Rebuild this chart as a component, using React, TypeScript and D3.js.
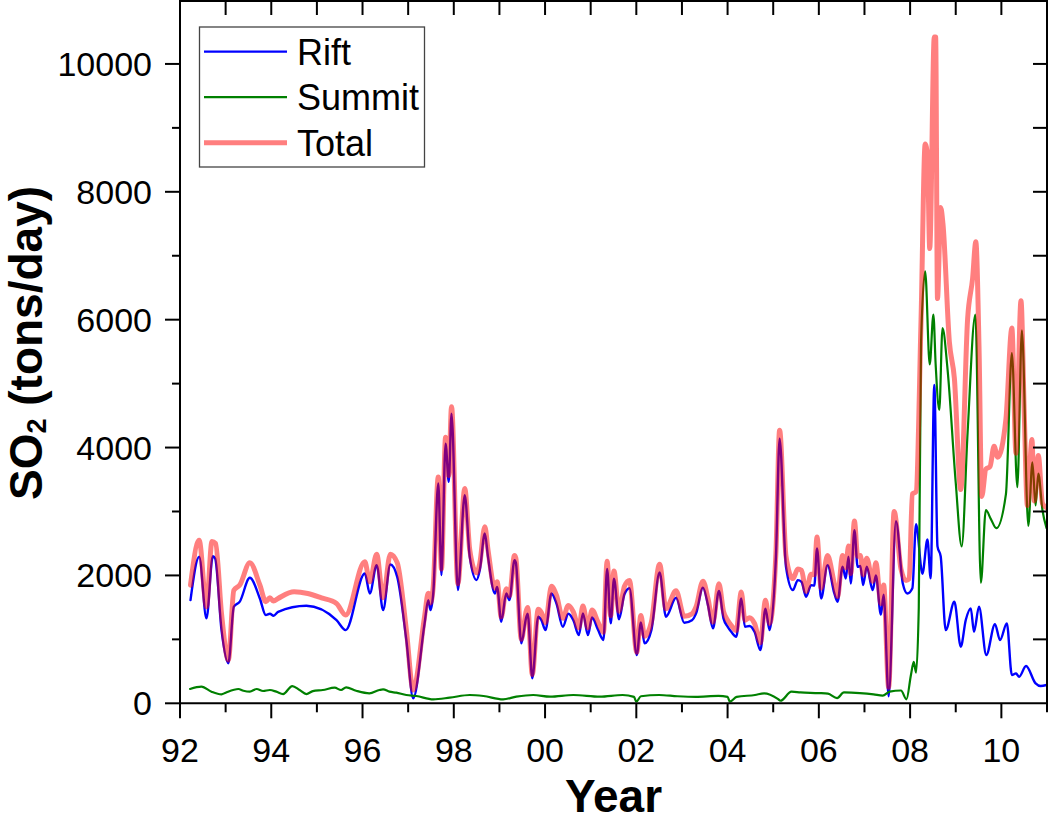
import React from "react";
import * as d3 from "d3";

// ---- Data (year as 92..111, where 100 = 2000) ----
const riftYears = [
  92.23, 92.42, 92.58, 92.72, 92.77, 92.91, 93.06, 93.18, 93.31, 93.53, 93.75, 93.88, 93.97, 94.05, 94.15,
  94.77, 95.43, 95.63, 96.05, 96.16, 96.31, 96.45, 96.61, 96.76, 96.96, 97.11, 97.36, 97.44, 97.49, 97.55,
  97.66, 97.73, 97.82, 97.89, 97.95, 98.09, 98.24, 98.35, 98.5, 98.57, 98.68, 98.75, 98.9, 98.95, 99.04,
  99.15, 99.22, 99.33, 99.36, 99.48, 99.59, 99.62, 99.72, 99.85, 99.92, 100.01, 100.14, 100.25, 100.39,
  100.51, 100.62, 100.74, 100.83, 100.94, 101.03, 101.16, 101.28, 101.36, 101.44, 101.51, 101.62, 101.74,
  101.85, 102.01, 102.1, 102.18, 102.33, 102.51, 102.65, 102.87, 103.05, 103.22, 103.31, 103.46, 103.57,
  103.68, 103.81, 103.91, 104.0, 104.08, 104.19, 104.3, 104.38, 104.48, 104.59, 104.72, 104.83, 104.92,
  105.06, 105.14, 105.28, 105.43, 105.54, 105.62, 105.72, 105.83, 105.9, 105.96, 106.05, 106.19, 106.34,
  106.41, 106.52, 106.59, 106.65, 106.7, 106.78, 106.85, 106.91, 106.97, 107.05, 107.18, 107.25, 107.36,
  107.42, 107.53, 107.69, 107.84, 107.94, 108.05, 108.13, 108.27, 108.38, 108.45, 108.53, 108.6, 108.67,
  108.78, 108.97, 109.11, 109.22, 109.33, 109.4, 109.51, 109.67, 109.86, 109.97, 110.12, 110.23, 110.32,
  110.39, 110.54, 110.75, 110.86, 110.99,
];
const riftValues = [
  1614, 2291, 1328, 2300, 2265, 1145, 625, 1510, 1590, 1963, 1640, 1380, 1400, 1370, 1430,
  1525, 1300, 1145, 2030, 1718, 2160, 1457, 2170, 1978, 990, 78, 1250, 1614, 1457, 1718,
  3437, 2005, 4062, 3463, 4531, 1770, 3255, 2290, 1927, 2083, 2656, 2290, 1718, 1820, 1275,
  1718, 1614, 2240, 2200, 937, 1353, 1400, 390, 1353, 1300, 1145, 1718, 1560, 1197,
  1400, 1300, 1067, 1406, 1067, 1343, 1150, 990, 2100, 1250, 1950, 1315, 1705,
  1800, 755, 1265, 937, 1145, 2045, 1354, 1650, 1260, 1300, 1406, 1810, 1536,
  1172, 1757, 1328, 1200, 1119, 1041, 1640, 1198, 1210, 1119, 833, 1480, 1145,
  2291, 4140, 2135, 1770, 1927, 1900, 1666, 1848, 1840, 2421, 1640, 2161, 1718,
  1588, 2135, 1953, 2291, 1874, 2708, 2135, 2150, 1849, 2135, 1770, 2000, 1387,
  1700, 110, 2850, 1874, 1718, 1800, 2800, 2027, 2561, 1956, 4979, 2454, 2300,
  1145, 1588, 885, 1302, 1484, 1119, 1510, 755, 1239, 989, 1250, 442, 468,
  416, 583, 312, 270, 286,
];

const summitYears = [
  92.22, 92.47, 92.69, 92.91, 93.0, 93.28, 93.39, 93.53, 93.68, 93.82, 93.97, 94.11, 94.26, 94.46, 94.62,
  94.77, 94.91, 95.13, 95.39, 95.53, 95.64, 95.86, 96.15, 96.37, 96.45, 96.59, 96.74, 96.96, 97.18, 97.55,
  97.91, 98.35, 98.65, 99.08, 99.37, 99.74, 100.11, 100.62, 101.2, 101.7, 101.95, 102.0, 102.1, 102.5,
  102.9, 103.3, 103.8, 104.0, 104.05, 104.2, 104.6, 104.8, 105.1, 105.16, 105.4, 105.6, 106.0, 106.2,
  106.4, 106.55, 106.9, 107.2, 107.4, 107.55, 107.8, 107.92, 108.02, 108.08, 108.13, 108.19, 108.24,
  108.33, 108.43, 108.51, 108.56, 108.64, 108.71, 108.82, 109.0, 109.13, 109.26, 109.43, 109.55, 109.66,
  109.77, 109.89, 110.1, 110.23, 110.35, 110.45, 110.59, 110.68, 110.75, 110.81, 110.9, 110.99,
];
const summitValues = [
  224, 260, 182, 140, 166, 224, 197, 182, 224, 192, 208, 182, 145, 270, 208,
  145, 190, 208, 244, 208, 250, 197, 156, 208, 218, 182, 166, 130, 114, 62,
  88, 130, 114, 62, 104, 130, 104, 130, 104, 130, 100, 25, 110, 130,
  110, 100, 115, 100, 25, 100, 130, 155, 70, 40, 182, 170, 160, 150,
  80, 170, 160, 140, 120, 182, 200, 62, 450, 650, 480, 1500, 5655,
  6757, 5299, 6081, 5299, 4588, 5868, 5228, 3450, 2454, 4232, 6081, 1885, 3023,
  2881, 2739, 3272, 5477, 3379, 5832, 2774, 3770, 3094, 3592, 3023, 2739,
];

const totalYears = [
  92.23, 92.42, 92.58, 92.7, 92.78, 92.91, 93.06, 93.18, 93.31, 93.53, 93.75, 93.88, 93.97, 94.05, 94.15,
  94.5, 94.8, 95.1, 95.43, 95.63, 96.05, 96.16, 96.31, 96.45, 96.61, 96.76, 96.96, 97.11, 97.36, 97.44,
  97.49, 97.55, 97.66, 97.73, 97.82, 97.89, 97.95, 98.09, 98.24, 98.35, 98.5, 98.57, 98.68, 98.75, 98.9,
  98.95, 99.04, 99.15, 99.22, 99.33, 99.36, 99.48, 99.59, 99.62, 99.72, 99.85, 99.92, 100.01, 100.14,
  100.25, 100.39, 100.51, 100.62, 100.74, 100.83, 100.94, 101.03, 101.16, 101.28, 101.36, 101.44, 101.51,
  101.62, 101.74, 101.85, 102.01, 102.1, 102.18, 102.33, 102.51, 102.65, 102.87, 103.05, 103.22, 103.31,
  103.46, 103.57, 103.68, 103.81, 103.91, 104.0, 104.08, 104.19, 104.3, 104.38, 104.48, 104.59, 104.72,
  104.83, 104.92, 105.06, 105.14, 105.28, 105.43, 105.54, 105.62, 105.72, 105.83, 105.9, 105.96, 106.05,
  106.19, 106.34, 106.41, 106.52, 106.59, 106.65, 106.7, 106.78, 106.85, 106.91, 106.97, 107.05, 107.18,
  107.25, 107.36, 107.42, 107.53, 107.65, 107.8, 107.91, 107.98, 108.05, 108.13, 108.24, 108.33, 108.38,
  108.43, 108.53, 108.56, 108.6, 108.67, 108.72, 108.86, 108.97, 109.11, 109.26, 109.37, 109.44, 109.51,
  109.57, 109.66, 109.75, 109.84, 109.92, 110.1, 110.23, 110.32, 110.43, 110.5, 110.57, 110.67, 110.72,
  110.81, 110.9, 110.99,
];
const totalValues = [
  1848, 2551, 1510, 2530, 2500, 1400, 677, 1770, 1850, 2197, 1850, 1590, 1650, 1600, 1640,
  1745, 1718, 1650, 1562, 1380, 2213, 1900, 2333, 1650, 2333, 2200, 1150, 208, 1360, 1720,
  1570, 1830, 3540, 2100, 4160, 3560, 4640, 1870, 3360, 2400, 2040, 2190, 2760, 2400, 1800,
  1900, 1350, 1790, 1680, 2310, 2270, 1000, 1450, 1500, 450, 1470, 1420, 1260, 1830,
  1690, 1330, 1530, 1430, 1180, 1520, 1180, 1460, 1270, 1110, 2220, 1370, 2070,
  1440, 1830, 1920, 800, 1375, 1050, 1270, 2175, 1480, 1760, 1360, 1400, 1510,
  1910, 1640, 1270, 1870, 1440, 1300, 1220, 1140, 1740, 1300, 1340, 1250, 950,
  1610, 1250, 2360, 4270, 2300, 1950, 2100, 2080, 1750, 2020, 2010, 2600, 1800,
  2310, 1870, 1670, 2310, 2120, 2460, 2030, 2850, 2300, 2310, 2010, 2270, 1910,
  2200, 1560, 1850, 250, 3000, 2100, 1920, 1950, 3272, 3308, 6010, 8749, 8571,
  7113, 10420, 10420, 6330, 7753, 7500, 5655, 5085, 3343, 6010, 6650, 7219, 5584,
  3236, 3663, 3700, 4019, 3850, 4446, 5868, 3912, 6295, 4588, 3094, 4125, 3165,
  3876, 3130, 3059,
];

const xTickValues = [92, 94, 96, 98, 100, 102, 104, 106, 108, 110];
const xTickLabels = ["92", "94", "96", "98", "00", "02", "04", "06", "08", "10"];
const yTickValues = [0, 2000, 4000, 6000, 8000, 10000];
const yTickLabels = ["0", "2000", "4000", "6000", "8000", "10000"];

const seriesNames = ["Rift", "Summit", "Total"];

const FONT = "Arial, 'Liberation Sans', Helvetica, sans-serif";

export default function App() {
  const W = 1050;
  const H = 825;
  const left = 180;
  const right = 1047;
  const top = 0;
  const bottom = 703.3;

  const x = d3.scaleLinear().domain([92, 111]).range([left, right]);
  const y = d3.scaleLinear().domain([0, 11000]).range([bottom, top]);

  const mk = (ts: number[], vs: number[]) =>
    d3
      .line<number>()
      .x((_, i) => x(ts[i]))
      .y((d) => y(d))
      .curve(d3.curveMonotoneX)(vs) || "";

  const riftPath = mk(riftYears, riftValues);
  const summitPath = mk(summitYears, summitValues);
  const totalPath = mk(totalYears, totalValues);

  const allYears = d3.range(92, 112);
  const minorY = d3.range(1000, 11000, 2000);
  const rightY = d3.range(1000, 11000, 1000);

  const legendStyles = [
    { stroke: "#0000ff", width: 2.2, opacity: 1 },
    { stroke: "#008000", width: 2.2, opacity: 1 },
    { stroke: "#ff0000", width: 5, opacity: 0.5 },
  ];

  return (
    <svg
      width={W}
      height={H}
      style={{ position: "absolute", left: 0, top: 0, background: "#fff" }}
      fontFamily={FONT}
    >
      <rect x={0} y={0} width={W} height={H} fill="#fff" />
      <defs>
        <clipPath id="plotClip">
          <rect x={left} y={top} width={right - left} height={bottom - top} />
        </clipPath>
      </defs>

      {/* data lines */}
      <g clipPath="url(#plotClip)" fill="none" strokeLinejoin="round" strokeLinecap="round">
        <path d={riftPath} stroke="#0000ff" strokeWidth={2.4} />
        <path d={summitPath} stroke="#008000" strokeWidth={2.2} />
        <path d={totalPath} stroke="#ff0000" strokeOpacity={0.5} strokeWidth={5} />
      </g>

      {/* axes frame */}
      <g stroke="#000" strokeWidth={2} fill="none">
        <line x1={left} y1={0} x2={left} y2={bottom + 1} />
        <line x1={left - 1} y1={bottom} x2={right + 1} y2={bottom} />
        <line x1={left} y1={1} x2={right} y2={1} />
        <line x1={right} y1={0} x2={right} y2={bottom} />
      </g>

      {/* ticks */}
      <g stroke="#000" strokeWidth={2}>
        {allYears.map((yr) => (
          <line
            key={"b" + yr}
            x1={x(yr)}
            x2={x(yr)}
            y1={bottom}
            y2={bottom + (yr % 2 === 0 ? 15 : 9)}
          />
        ))}
        {allYears.map((yr) => (
          <line key={"t" + yr} x1={x(yr)} x2={x(yr)} y1={0} y2={15} />
        ))}
        {yTickValues.map((v) => (
          <line key={"l" + v} x1={left - 15} x2={left} y1={y(v)} y2={y(v)} />
        ))}
        {minorY.map((v) => (
          <line key={"lm" + v} x1={left - 8} x2={left} y1={y(v)} y2={y(v)} />
        ))}
        {rightY.map((v) => (
          <line key={"r" + v} x1={right - 14} x2={right} y1={y(v)} y2={y(v)} />
        ))}
      </g>

      {/* tick labels */}
      <g fontSize={34} fill="#000">
        {xTickValues.map((v, i) => (
          <text key={"xl" + v} x={x(v)} y={762} textAnchor="middle">
            {xTickLabels[i]}
          </text>
        ))}
        {yTickValues.map((v, i) => (
          <text key={"yl" + v} x={152} y={y(v) + 12} textAnchor="end">
            {yTickLabels[i]}
          </text>
        ))}
      </g>

      {/* axis titles */}
      <text x={(left + right) / 2} y={812} textAnchor="middle" fontSize={46} fontWeight="bold">
        Year
      </text>
      <text
        transform="translate(42,343) rotate(-90)"
        textAnchor="middle"
        fontSize={46}
        fontWeight="bold"
      >
        <tspan>SO</tspan>
        <tspan fontSize={27} dy={4}>2</tspan>
        <tspan dy={-4}> (tons/day)</tspan>
      </text>

      {/* legend */}
      <rect x={199.5} y={27} width={225} height={140} fill="#fff" stroke="#444" strokeWidth={1.3} />
      {seriesNames.map((name, i) => {
        const ry = 51.7 + i * 45.5;
        const s = legendStyles[i];
        return (
          <g key={name}>
            <line
              x1={204}
              x2={287}
              y1={ry}
              y2={ry}
              stroke={s.stroke}
              strokeWidth={s.width}
              strokeOpacity={s.opacity}
            />
            <text x={297} y={ry + 13} fontSize={36} fill="#000">
              {name}
            </text>
          </g>
        );
      })}
    </svg>
  );
}
